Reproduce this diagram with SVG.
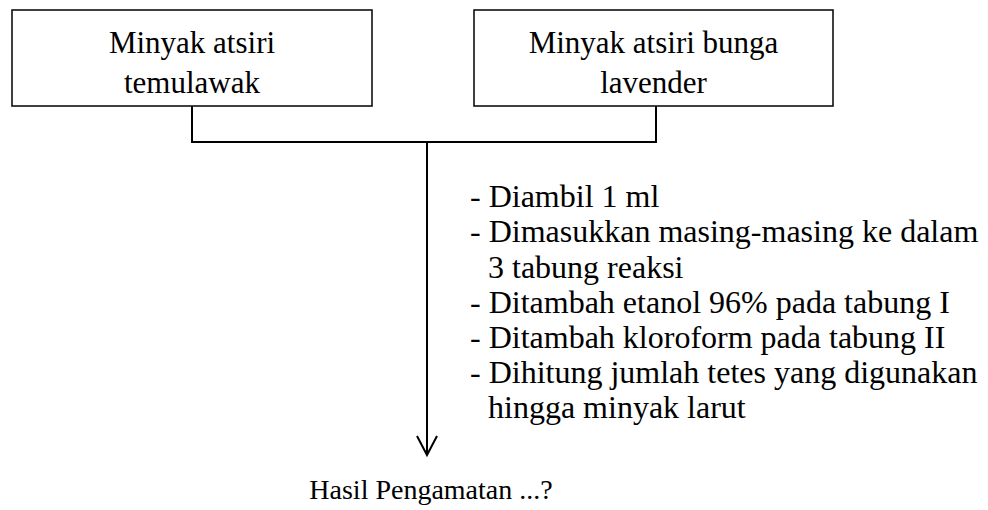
<svg xmlns="http://www.w3.org/2000/svg" width="988" height="510" viewBox="0 0 988 510">
<style>
.box{fill:#fff;stroke:#000;stroke-width:1.5}
.bt{font-size:31px;text-anchor:middle}
.lt{font-size:32px}
.ht{font-size:28px;text-anchor:middle}
.ln{fill:none;stroke:#000;stroke-width:2}
</style>
<rect width="988" height="510" fill="#fff"/>
<g font-family="'Liberation Serif', 'Times New Roman', Times, 'DejaVu Serif', serif" fill="#000">
<g id="node-temulawak">
<rect class="box" x="12" y="10" width="360" height="96"/>
<text class="bt" x="192" y="53">Minyak atsiri</text>
<text class="bt" x="192" y="93">temulawak</text>
</g>
<g id="node-lavender">
<rect class="box" x="474" y="10" width="359" height="96"/>
<text class="bt" x="653.5" y="53">Minyak atsiri bunga</text>
<text class="bt" x="653.5" y="93">lavender</text>
</g>
<g id="connectors">
<polyline class="ln" points="192,106 192,142 656,142 656,106"/>
<line class="ln" x1="427" y1="142" x2="427" y2="454"/>
<polyline class="ln" points="417,436 427,455 437,436"/>
</g>
<g id="steps">
<text class="lt" x="470" y="207">- Diambil 1 ml</text>
<text class="lt" x="470" y="242">- Dimasukkan masing-masing ke dalam</text>
<text class="lt" x="488" y="278">3 tabung reaksi</text>
<text class="lt" x="470" y="313">- Ditambah etanol 96% pada tabung I</text>
<text class="lt" x="470" y="348">- Ditambah kloroform pada tabung II</text>
<text class="lt" x="470" y="383">- Dihitung jumlah tetes yang digunakan</text>
<text class="lt" x="488" y="418">hingga minyak larut</text>
</g>
<g id="node-hasil">
<text class="ht" x="431" y="499">Hasil Pengamatan ...?</text>
</g>
</g>
</svg>
